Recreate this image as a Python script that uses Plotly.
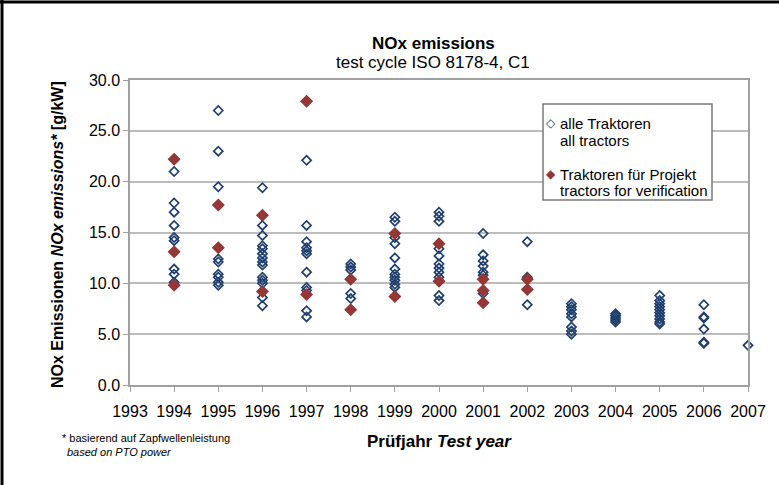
import plotly.graph_objects as go

# ---------------- data ----------------
all_year = (
    [1994] * 12 + [1995] * 11 + [1996] * 16 + [1997] * 13 + [1998] * 7 +
    [1999] * 13 + [2000] * 13 + [2001] * 10 + [2002] * 5 + [2003] * 8 +
    [2004] * 5 + [2005] * 10 + [2006] * 6 + [2007] * 1
)
all_nox = [
    22.2, 21.0, 17.9, 17.0, 15.7, 14.5, 14.2, 13.1, 11.4, 10.9, 10.1, 9.8,          # 1994
    27.0, 23.0, 19.5, 17.7, 13.5, 12.4, 12.1, 10.9, 10.6, 10.1, 9.8,                # 1995
    19.4, 16.7, 15.7, 14.7, 13.7, 13.4, 12.9, 12.5, 12.1, 11.8, 10.6, 10.3, 10.0,
    9.2, 8.6, 7.8,                                                                  # 1996
    27.9, 22.1, 15.7, 14.1, 13.5, 13.2, 12.9, 11.1, 9.6, 9.3, 8.9, 7.3, 6.7,        # 1997
    11.9, 11.6, 11.3, 10.4, 9.0, 8.5, 7.4,                                          # 1998
    16.5, 16.1, 14.9, 14.5, 13.9, 12.5, 11.4, 10.9, 10.6, 10.3, 9.9, 9.6, 8.7,      # 1999
    17.0, 16.6, 16.1, 13.9, 13.4, 12.7, 11.9, 11.5, 11.1, 10.6, 10.2, 8.8, 8.3,     # 2000
    14.9, 12.8, 12.2, 11.7, 11.1, 10.8, 10.4, 9.3, 9.0, 8.1,                        # 2001
    14.1, 10.6, 10.4, 9.4, 7.9,                                                     # 2002
    8.0, 7.7, 7.4, 7.0, 6.7, 5.7, 5.3, 5.0,                                         # 2003
    7.0, 6.8, 6.6, 6.4, 6.2,                                                        # 2004
    8.8, 8.3, 8.0, 7.7, 7.4, 7.1, 6.8, 6.5, 6.2, 6.0,                               # 2005
    7.9, 6.7, 6.6, 5.5, 4.2, 4.1,                                                   # 2006
    3.9,                                                                            # 2007
]

proj_year = [1994, 1994, 1994, 1995, 1995, 1996, 1996, 1997, 1997, 1998, 1998,
             1999, 1999, 2000, 2000, 2001, 2001, 2001, 2002, 2002]
proj_nox = [22.2, 13.1, 9.8, 17.7, 13.5, 16.7, 9.2, 27.9, 8.9, 10.4, 7.4,
            14.9, 8.7, 13.9, 10.2, 10.4, 9.3, 8.1, 10.4, 9.4]

x_range = [1993, 2007]
y_range = [0, 30]
y_ticks = [0, 5, 10, 15, 20, 25, 30]
highlight_line = 15

legend_all = ["alle Traktoren", "all tractors"]
legend_proj = ["Traktoren für Projekt", "tractors for verification"]

BLUE = "#1F3F6F"
RED = "#953735"
FONT = "Liberation Sans, Arial, sans-serif"

# plot area in pixels
L, R, T, B = 130, 31, 80, 100
W, H = 779, 485
PW, PH = W - L - R, H - T - B


def px(xp):
    return (xp - L) / PW


def py(yp):
    return (H - B - yp) / PH


annotations = [
    dict(text="<b>NOx emissions</b>", x=px(433), y=py(44), font=dict(size=17)),
    dict(text="test cycle ISO 8178-4, C1", x=px(433), y=py(62), font=dict(size=17)),
    dict(text="<b>Prüfjahr <i>Test year</i></b>", x=px(439), y=py(441), font=dict(size=17)),
    dict(text="<b>NOx Emissionen <i>NOx emissions*</i> [g/kW]</b>", x=px(57), y=py(235),
         textangle=-90, font=dict(size=16)),
    dict(text="* basierend auf Zapfwellenleistung", x=px(60), y=py(438), xanchor="left",
         font=dict(size=11)),
    dict(text="<i>based on PTO power</i>", x=px(65), y=py(452), xanchor="left",
         font=dict(size=11)),
    # legend
    dict(text="◇", x=px(551), y=py(123), font=dict(size=12, color=BLUE, family="DejaVu Sans")),
    dict(text="◆", x=px(551), y=py(174), font=dict(size=12, color=RED, family="DejaVu Sans")),
    dict(text=legend_all[0], x=px(558), y=py(123), xanchor="left", font=dict(size=15)),
    dict(text=legend_all[1], x=px(558), y=py(140), xanchor="left", font=dict(size=15)),
    dict(text=legend_proj[0], x=px(558), y=py(174), xanchor="left", font=dict(size=15)),
    dict(text=legend_proj[1], x=px(558), y=py(190), xanchor="left", font=dict(size=15)),
]
for a in annotations:
    a.setdefault("xanchor", "center")
    a.update(xref="paper", yref="paper", yanchor="middle", showarrow=False)
    a["font"].setdefault("family", FONT)
    a["font"].setdefault("color", "black")

shapes = [
    # darker reference gridline
    dict(type="line", xref="paper", yref="y", x0=0, x1=1, y0=highlight_line, y1=highlight_line,
         line=dict(color="#6A6A6A", width=1.2), layer="below"),
    # legend box
    dict(type="rect", xref="paper", yref="paper", x0=px(543), x1=px(712), y0=py(200), y1=py(104),
         line=dict(color="#7A7A7A", width=1.5), fillcolor="white", layer="above"),
    # outer frame (top and left)
    dict(type="line", xref="paper", yref="paper", x0=px(0), x1=px(W), y0=py(2), y1=py(2),
         line=dict(color="black", width=3)),
    dict(type="line", xref="paper", yref="paper", x0=px(2), x1=px(2), y0=py(0), y1=py(H),
         line=dict(color="black", width=3)),
]

fig = go.Figure(layout=dict(
    width=W, height=H,
    margin=dict(l=L, r=R, t=T, b=B),
    paper_bgcolor="white", plot_bgcolor="white",
    font=dict(family=FONT, size=16, color="black"),
    annotations=annotations,
    shapes=shapes,
    showlegend=False,
))
fig.add_trace(go.Scatter(
    x=all_year, y=all_nox, mode="markers", cliponaxis=False,
    marker=dict(symbol="diamond-open", size=7, color=BLUE, line=dict(width=1.7, color=BLUE)),
    showlegend=False))
fig.add_trace(go.Scatter(
    x=proj_year, y=proj_nox, mode="markers", cliponaxis=False,
    marker=dict(symbol="diamond", size=10, color=RED, line=dict(width=0)),
    showlegend=False))

fig.update_xaxes(
    range=x_range, dtick=1, tickformat="d", showgrid=False, zeroline=False,
    showline=True, linecolor="#A0A0A0", linewidth=1.5, mirror=True,
    ticks="outside", ticklen=5, tickcolor="#A0A0A0", ticklabelstandoff=6,
    tickfont=dict(size=16),
)
fig.update_yaxes(
    range=y_range, tickvals=y_ticks, tickformat=".1f", showgrid=True,
    gridcolor="#BDBDBD", gridwidth=1.5, zeroline=False,
    showline=True, linecolor="#A0A0A0", linewidth=1.5, mirror=True,
    ticks="outside", ticklen=5, tickcolor="#A0A0A0", tickfont=dict(size=16),
)

fig.write_html("out.html", config={"displayModeBar": False},
               post_script="document.body.style.margin='0';")
